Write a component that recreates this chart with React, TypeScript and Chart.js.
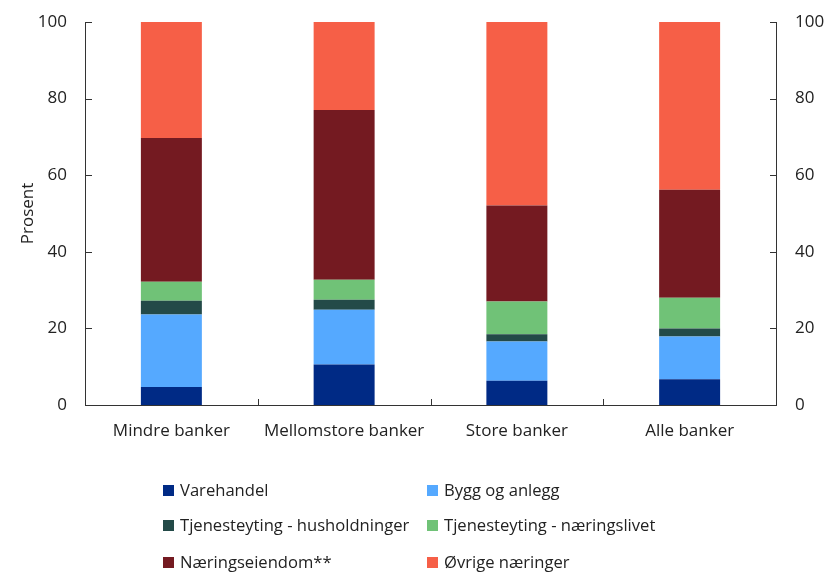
import React, { useEffect, useRef } from "react";
import { Chart, registerables } from "chart.js";

Chart.register(...registerables);

const categories = ["Mindre banker", "Mellomstore banker", "Store banker", "Alle banker"];
const seriesNames = [
  "Varehandel",
  "Bygg og anlegg",
  "Tjenesteyting - husholdninger",
  "Tjenesteyting - næringslivet",
  "Næringseiendom**",
  "Øvrige næringer",
];
const varehandel = [4.7, 10.6, 6.3, 6.7];
const byggOgAnlegg = [18.9, 14.3, 10.3, 11.2];
const tjHusholdninger = [3.6, 2.6, 1.9, 2.1];
const tjNaeringslivet = [5.0, 5.2, 8.5, 8.0];
const naeringseiendom = [37.5, 44.3, 25.1, 28.2];
const ovrige = [30.3, 23.0, 47.9, 43.8];
const yTicks = [0, 20, 40, 60, 80, 100];
const colors = ["#002A85", "#55A9FF", "#234A48", "#70C277", "#741A21", "#F65F47"];

const FONT = "'Open Sans', 'DejaVu Sans', sans-serif";

const legendPlugin = {
  id: "gridLegend",
  afterDraw(chart: any) {
    const ctx = chart.ctx;
    const cols = [163, 427];
    const rows = [490, 525, 562];
    ctx.save();
    ctx.font = `16.6px ${FONT}`;
    ctx.textBaseline = "middle";
    ctx.textAlign = "left";
    chart.data.datasets.forEach((ds: any, i: number) => {
      const x = cols[i % 2];
      const y = rows[Math.floor(i / 2)];
      ctx.fillStyle = ds.backgroundColor;
      ctx.fillRect(x, y - 5, 11, 11);
      ctx.fillStyle = "#222";
      ctx.fillText(ds.label, x + 17, y + 1);
    });
    ctx.restore();
  },
};

const tickPlugin = {
  id: "innerTicks",
  afterDraw(chart: any) {
    const ctx = chart.ctx;
    const { left, right, bottom } = chart.chartArea;
    const y = chart.scales.y;
    const x = chart.scales.x;
    ctx.save();
    ctx.strokeStyle = "#333";
    ctx.lineWidth = 1;
    ctx.beginPath();
    yTicks.forEach((v) => {
      const py = Math.round(y.getPixelForValue(v)) + 0.5;
      ctx.moveTo(left, py);
      ctx.lineTo(left + 7, py);
      ctx.moveTo(right, py);
      ctx.lineTo(right - 6, py);
    });
    for (let i = 1; i < categories.length; i++) {
      const px = Math.round((x.getPixelForTick(i - 1) + x.getPixelForTick(i)) / 2) + 0.5;
      ctx.moveTo(px, bottom);
      ctx.lineTo(px, bottom - 6);
    }
    ctx.stroke();
    ctx.restore();
  },
};

const zeroPad = (s: any) => {
  s.paddingTop = 0;
  s.paddingBottom = 0;
  s.paddingLeft = 0;
  s.paddingRight = 0;
};

export default function App() {
  const ref = useRef<HTMLCanvasElement>(null);
  useEffect(() => {
    if (!ref.current) return;
    const values = [varehandel, byggOgAnlegg, tjHusholdninger, tjNaeringslivet, naeringseiendom, ovrige];
    const chart = new Chart(ref.current, {
      type: "bar",
      data: {
        labels: categories,
        datasets: seriesNames.map((name, i) => ({
          label: name,
          data: values[i],
          backgroundColor: colors[i],
          borderWidth: 0,
          stack: "s",
          yAxisID: "y",
        })),
      },
      options: {
        animation: false,
        responsive: false,
        devicePixelRatio: 1,
        layout: { padding: { top: 22, left: 0, right: 0, bottom: 0 } },
        plugins: {
          legend: { display: false },
          tooltip: { enabled: false },
        },
        datasets: { bar: { categoryPercentage: 1, barPercentage: 0.353 } },
        scales: {
          x: {
            stacked: true,
            grid: { display: false, drawTicks: false },
            border: { display: true, color: "#333", width: 1 },
            ticks: { color: "#222", font: { family: FONT, size: 17 }, padding: 16 },
            afterFit: (s: any) => { s.height = 171; zeroPad(s); },
          },
          y: {
            stacked: true,
            position: "left",
            min: 0,
            max: 100,
            afterBuildTicks: (s: any) => { s.ticks = yTicks.map((v) => ({ value: v })); },
            grid: { display: false, drawTicks: false },
            border: { display: true, color: "#333", width: 1 },
            ticks: { color: "#222", font: { family: FONT, size: 17 }, padding: 18 },
            title: { display: true, text: "Prosent", color: "#222", font: { family: FONT, size: 17 }, padding: { top: 18, bottom: 0 } },
            afterFit: (s: any) => { s.width = 85; zeroPad(s); },
          },
          y2: {
            position: "right",
            min: 0,
            max: 100,
            afterBuildTicks: (s: any) => { s.ticks = yTicks.map((v) => ({ value: v })); },
            grid: { display: false, drawTicks: false },
            border: { display: true, color: "#333", width: 1 },
            ticks: { color: "#222", font: { family: FONT, size: 17 }, padding: 19 },
            afterFit: (s: any) => { s.width = 51; zeroPad(s); },
          },
        },
      },
      plugins: [tickPlugin, legendPlugin],
    });
    return () => chart.destroy();
  }, []);
  return (
    <div style={{ position: "absolute", left: 0, top: 0, width: 827, height: 576, background: "#fff" }}>
      <canvas ref={ref} width={827} height={576} />
    </div>
  );
}
